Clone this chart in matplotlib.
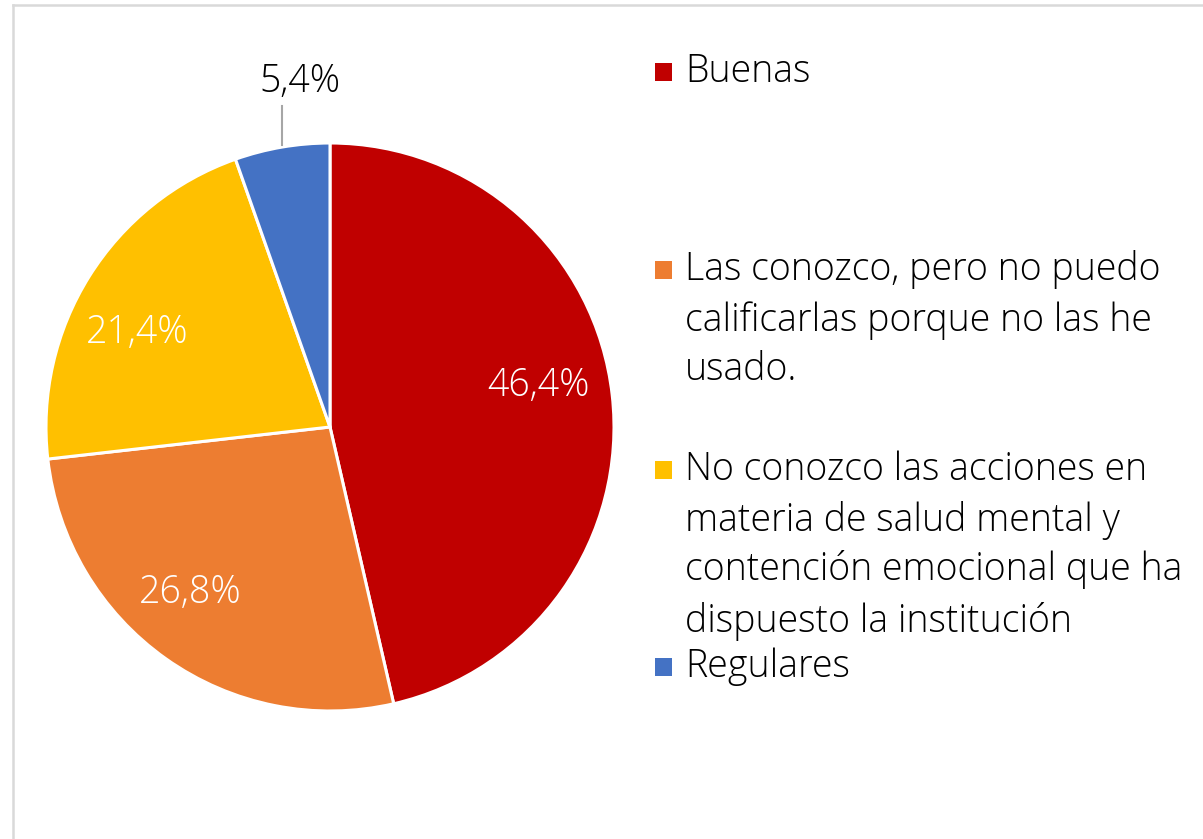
import matplotlib
matplotlib.use('Agg')
import matplotlib.pyplot as plt
from matplotlib.patches import Rectangle
from matplotlib.lines import Line2D

# datos
categorias = ['Buenas',
              'Las conozco, pero no puedo calificarlas porque no las he usado.',
              'No conozco las acciones en materia de salud mental y contención emocional que ha dispuesto la institución',
              'Regulares']
valores = [46.4, 26.8, 21.4, 5.4]
etiquetas = ['46,4%', '26,8%', '21,4%', '5,4%']
colores = ['#C00000', '#ED7D31', '#FFC000', '#4472C4']
# texto de la leyenda, ya partido en líneas como en el original
leyenda_lineas = [
    ['Buenas'],
    ['Las conozco, pero no puedo', 'calificarlas porque no las he', 'usado.'],
    ['No conozco las acciones en', 'materia de salud mental y',
     'contención emocional que ha', 'dispuesto la institución'],
    ['Regulares'],
]

plt.rcParams['font.family'] = ['Open Sans', 'DejaVu Sans']

W, H = 1203, 839
fig = plt.figure(figsize=(W / 100, H / 100), dpi=100)

# pie en un eje propio con y hacia arriba
cx, cy, r = 330, 427, 284
pax = fig.add_axes([(cx - r) / W, 1 - (cy + r) / H, 2 * r / W, 2 * r / H])
pax.pie(valores, colors=colores, startangle=90, counterclock=False,
        wedgeprops=dict(edgecolor='white', linewidth=2.2))
pax.set_xlim(-1, 1)
pax.set_ylim(-1, 1)
pax.set_aspect('auto')
pax.axis('off')

# eje de texto encima, en pixeles
ax = fig.add_axes([0, 0, 1, 1])
ax.set_xlim(0, W)
ax.set_ylim(H, 0)
ax.axis('off')
ax.set_zorder(3)

# marco gris
ax.add_line(Line2D([13, 13], [H, 5], color='#D9D9D9', lw=1.8))
ax.add_line(Line2D([13, W], [5, 5], color='#D9D9D9', lw=1.8))

# etiquetas de porcentaje
pos_etq = [(539, 396), (190, 603), (137.5, 343), (299.5, 92)]
col_etq = ['white', 'white', 'white', 'black']
for (x, y), t, c in zip(pos_etq, etiquetas, col_etq):
    ax.text(x, y, t, ha='center', va='baseline', fontsize=27, color=c,
            fontweight='light')
# línea guía de 5,4%
ax.add_line(Line2D([282, 282], [106, 145], color='#A6A6A6', lw=1.5))

# leyenda manual
base_y = [[82], [280, 331, 380], [480, 531, 580, 632], [677]]
for lineas, ys, c in zip(leyenda_lineas, base_y, colores):
    ax.add_patch(Rectangle((655, ys[0] - 19), 17, 18, color=c, lw=0))
    for ln, y in zip(lineas, ys):
        ax.text(685, y, ln, ha='left', va='baseline', fontsize=27,
                color='black', fontweight='light')

fig.savefig('out.png', dpi=100)
